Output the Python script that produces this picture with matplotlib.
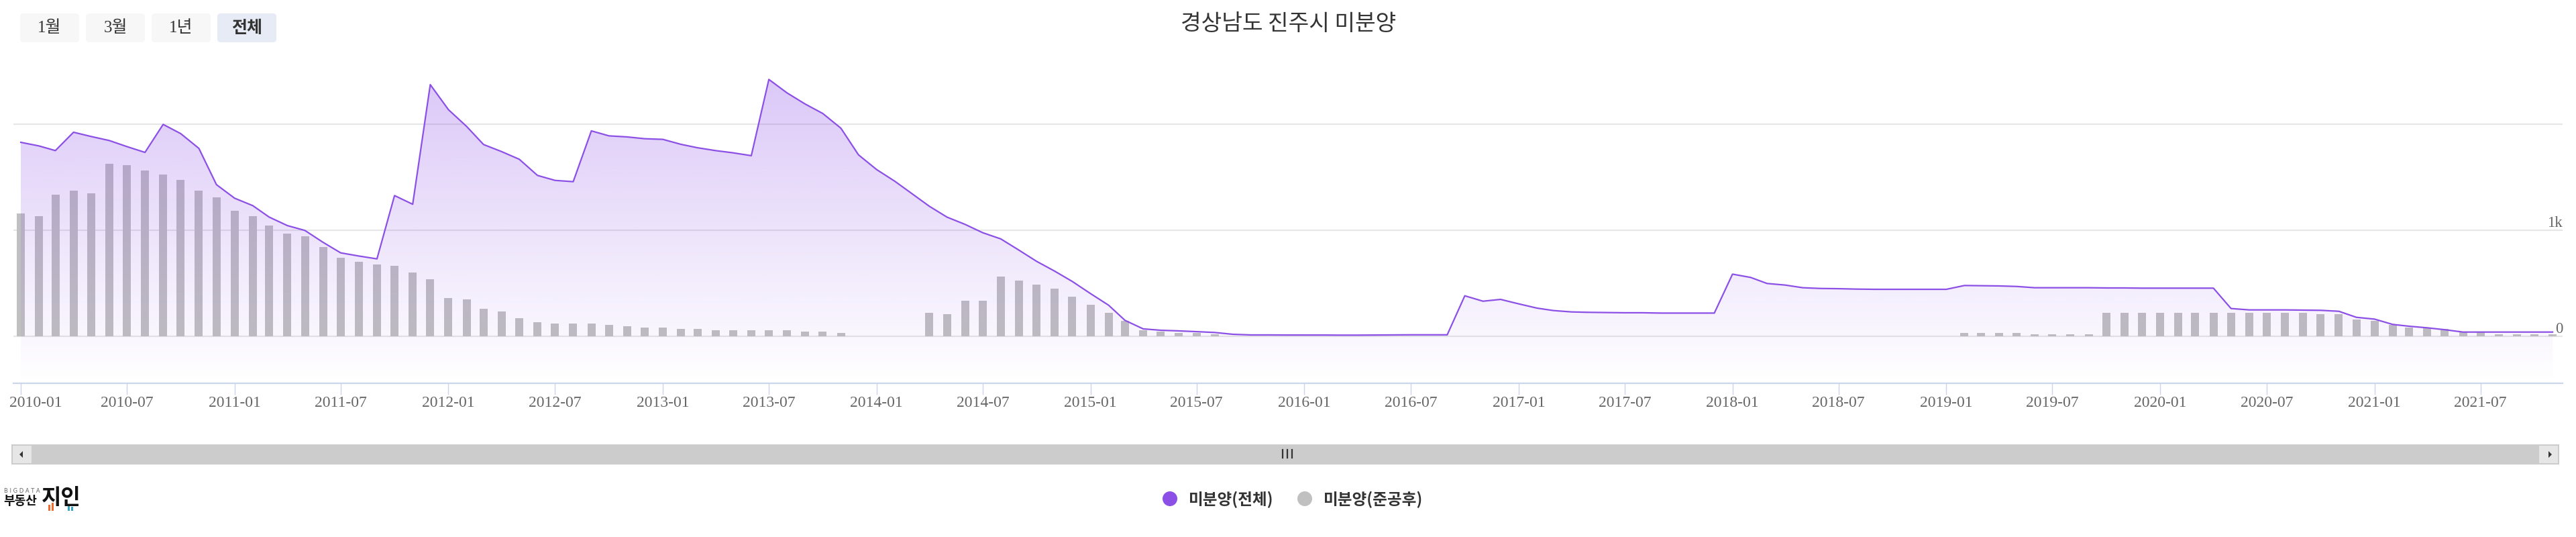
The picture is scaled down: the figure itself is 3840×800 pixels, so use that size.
import numpy as np
import pandas as pd
import matplotlib
matplotlib.use("Agg")
import matplotlib.pyplot as plt
import matplotlib.dates as mdates
import matplotlib.transforms as mtransforms
from matplotlib.patches import FancyBboxPatch, Rectangle, Circle, Polygon

plt.rcParams['font.family'] = ['Noto Sans CJK KR', 'DejaVu Sans']

# 데이터 (2010-01 ~ 2021-11, 월별)
months = pd.date_range('2010-01-01', periods=143, freq='MS')

total_unsold = [
    1829, 1795, 1751, 1924, 1884, 1846, 1789, 1734, 1998, 1911, 1772, 1430,
    1302, 1232, 1124, 1044, 998, 886, 787, 757, 730, 1327, 1245, 2373,
    2137, 1979, 1808, 1741, 1669, 1517, 1470, 1458, 1937, 1890, 1880, 1863,
    1857, 1810, 1778, 1751, 1730, 1703, 2422, 2295, 2190, 2101, 1962, 1711,
    1572, 1462, 1350, 1226, 1124, 1055, 977, 918, 812, 707, 614, 517,
    403, 293, 150, 70, 57, 51, 44, 36, 19, 13, 13, 12,
    12, 12, 11, 11, 12, 13, 14, 14, 14, 382, 331, 348,
    306, 266, 243, 230, 226, 224, 222, 222, 219, 219, 219, 219,
    586, 555, 498, 483, 458, 451, 449, 445, 443, 443, 443, 443,
    443, 479, 477, 475, 470, 458, 458, 458, 458, 456, 456, 454,
    454, 454, 454, 454, 262, 249, 249, 249, 247, 245, 236, 179,
    162, 112, 95, 80, 62, 40, 40, 40, 40, 40, 40,
]

completed_unsold = [
    1158, 1133, 1335, 1373, 1348, 1627, 1614, 1563, 1525, 1475, 1373, 1310,
    1184, 1133, 1044, 968, 943, 842, 741, 703, 677, 665, 601, 538,
    361, 348, 259, 234, 171, 133, 120, 120, 120, 108, 95, 82,
    82, 70, 70, 57, 57, 57, 57, 57, 44, 44, 32, 0,
    0, 0, 0, 222, 209, 335, 335, 563, 525, 487, 449, 373,
    297, 222, 146, 57, 44, 32, 32, 19, 0, 0, 0, 0,
    0, 0, 0, 0, 0, 0, 0, 0, 0, 0, 0, 0,
    0, 0, 0, 0, 0, 0, 0, 0, 0, 0, 0, 0,
    0, 0, 0, 0, 0, 0, 0, 0, 0, 0, 0, 0,
    0, 32, 32, 32, 32, 19, 19, 19, 19, 222, 222, 222,
    222, 222, 222, 222, 222, 222, 222, 222, 222, 209, 209, 158,
    146, 108, 82, 76, 70, 38, 36, 19, 19, 19, 19,
]

tick_dates = pd.date_range('2010-01-01', '2021-07-01', freq='6MS')
tick_labels = [d.strftime('%Y-%m') for d in tick_dates]
y_ticks = [0, 1000, 2000]
y_labels = {0: '0', 1000: '1k'}

buttons = ['1월', '3월', '1년', '전체']
title = '경상남도 진주시 미분양'
legend_names = ['미분양(전체)', '미분양(준공후)']

LINE_COLOR = '#8c50e6'
BAR_COLOR = '#c0c0c0'
W, H = 3840, 800

fig = plt.figure(figsize=(W / 100, H / 100), dpi=100)

# 메인 차트 영역
ax = fig.add_axes([20 / W, (H - 571) / H, 3800 / W, 471 / H])
ybot, ytop = -443, 2538
x0 = mdates.date2num(pd.Timestamp('2010-01-01')) - 12.6
x1 = mdates.date2num(pd.Timestamp('2010-01-01')) + 4339
ax.set_xlim(x0, x1)
ax.set_ylim(ybot, ytop)

ax.bar(months, completed_unsold, width=13.7, color=BAR_COLOR, zorder=1)

# 그라데이션 면적
poly = ax.fill_between(months, total_unsold, ybot, facecolor='none', edgecolor='none')
grad = np.zeros((256, 1, 4))
rgb = np.array([143, 82, 232]) / 255.0
grad[:, 0, :3] = rgb
grad[:, 0, 3] = np.linspace(0.33, 0.0, 256)
img = ax.imshow(grad, extent=[x0, x1, ybot, ytop], aspect='auto', origin='upper',
                zorder=2, interpolation='bilinear')
img.set_clip_path(poly.get_paths()[0], transform=ax.transData)

ax.plot(months, total_unsold, color=LINE_COLOR, lw=1.6, zorder=3)

ax.set_yticks(y_ticks)
ax.yaxis.grid(True, color='#e6e6e6', lw=1.5, zorder=0)
ax.set_axisbelow(True)
ax.tick_params(axis='y', length=0, labelleft=False)
for v, s in y_labels.items():
    off = mtransforms.ScaledTranslation(0, 5 / 100, fig.dpi_scale_trans)
    ax.text(1.0, v, s, transform=ax.get_yaxis_transform() + off, ha='right', va='baseline',
            fontsize=16.5, color='#666666', family=['Liberation Serif'])

ax.set_xticks(mdates.date2num(tick_dates))
ax.set_xticklabels(tick_labels, fontsize=17, color='#666666', family=['Liberation Serif'])
ax.tick_params(axis='x', direction='out', length=12, width=1, color='#ccd6eb', pad=2)
for s in ['top', 'left', 'right']:
    ax.spines[s].set_visible(False)
ax.spines['bottom'].set_color('#ccd6eb')
ax.spines['bottom'].set_linewidth(1.6)

first = ax.xaxis.get_major_ticks()[0].label1
first.set_horizontalalignment('left')
first.set_transform(first.get_transform() +
                    mtransforms.ScaledTranslation(-17 / 100, 0, fig.dpi_scale_trans))

# 픽셀 좌표용 오버레이
ov = fig.add_axes([0, 0, 1, 1], zorder=5)
ov.set_xlim(0, W)
ov.set_ylim(H, 0)
ov.axis('off')

ov.text(1921, 35, title, ha='center', va='center', fontsize=24, color='#333333')

bx = [30, 128, 226, 324]
for i, (x, lab) in enumerate(zip(bx, buttons)):
    sel = lab == '전체'
    ov.add_patch(FancyBboxPatch((x, 20), 88, 43, boxstyle='round,pad=0,rounding_size=5',
                                facecolor='#e6ebf5' if sel else '#f7f7f7', edgecolor='none'))
    ov.text(x + 44, 42, lab, ha='center', va='center', fontsize=18, color='#333333',
            fontweight='bold' if sel else 'normal',
            family=['Liberation Serif', 'Noto Sans CJK KR'])

# 스크롤바
ov.add_patch(Rectangle((17, 662), 3798, 30, facecolor='#cccccc', edgecolor='none'))
ov.add_patch(Rectangle((19, 664), 28, 26, facecolor='#e6e6e6', edgecolor='none'))
ov.add_patch(Rectangle((3785, 664), 28, 26, facecolor='#e6e6e6', edgecolor='none'))
ov.add_patch(Polygon([[29, 677], [34, 672], [34, 682]], closed=True, facecolor='#333333'))
ov.add_patch(Polygon([[3804, 677], [3799, 672], [3799, 682]], closed=True, facecolor='#333333'))
for gx in [1912, 1919, 1926]:
    ov.plot([gx, gx], [670, 682], color='#333333', lw=1.6)

# 범례
lx = [1744, 1945]
lc = [LINE_COLOR, BAR_COLOR]
for x, c, name in zip(lx, lc, legend_names):
    ov.add_patch(Circle((x, 743), 11, facecolor=c, edgecolor='none'))
    ov.text(x + 28, 744, name, ha='left', va='center', fontsize=17, fontweight='bold',
            color='#333333')

# 로고
ov.text(6, 731, 'B I G D A T A', ha='left', va='center', fontsize=6, color='#666666',
        family=['DejaVu Sans'])
ov.text(5, 746, '부동산', ha='left', va='center', fontsize=13, fontweight='bold', color='#111111')
ov.text(62, 742, '지인', ha='left', va='center', fontsize=23, fontweight='heavy', color='#111111')
ov.add_patch(Rectangle((72, 752), 3, 9, facecolor='#f26a2e', edgecolor='none'))
ov.add_patch(Rectangle((77, 749), 3, 12, facecolor='#f26a2e', edgecolor='none'))
ov.add_patch(Rectangle((101, 752), 3, 9, facecolor='#2fa6c4', edgecolor='none'))
ov.add_patch(Rectangle((106, 755), 3, 6, facecolor='#2fa6c4', edgecolor='none'))

fig.savefig('out.png', dpi=100)
